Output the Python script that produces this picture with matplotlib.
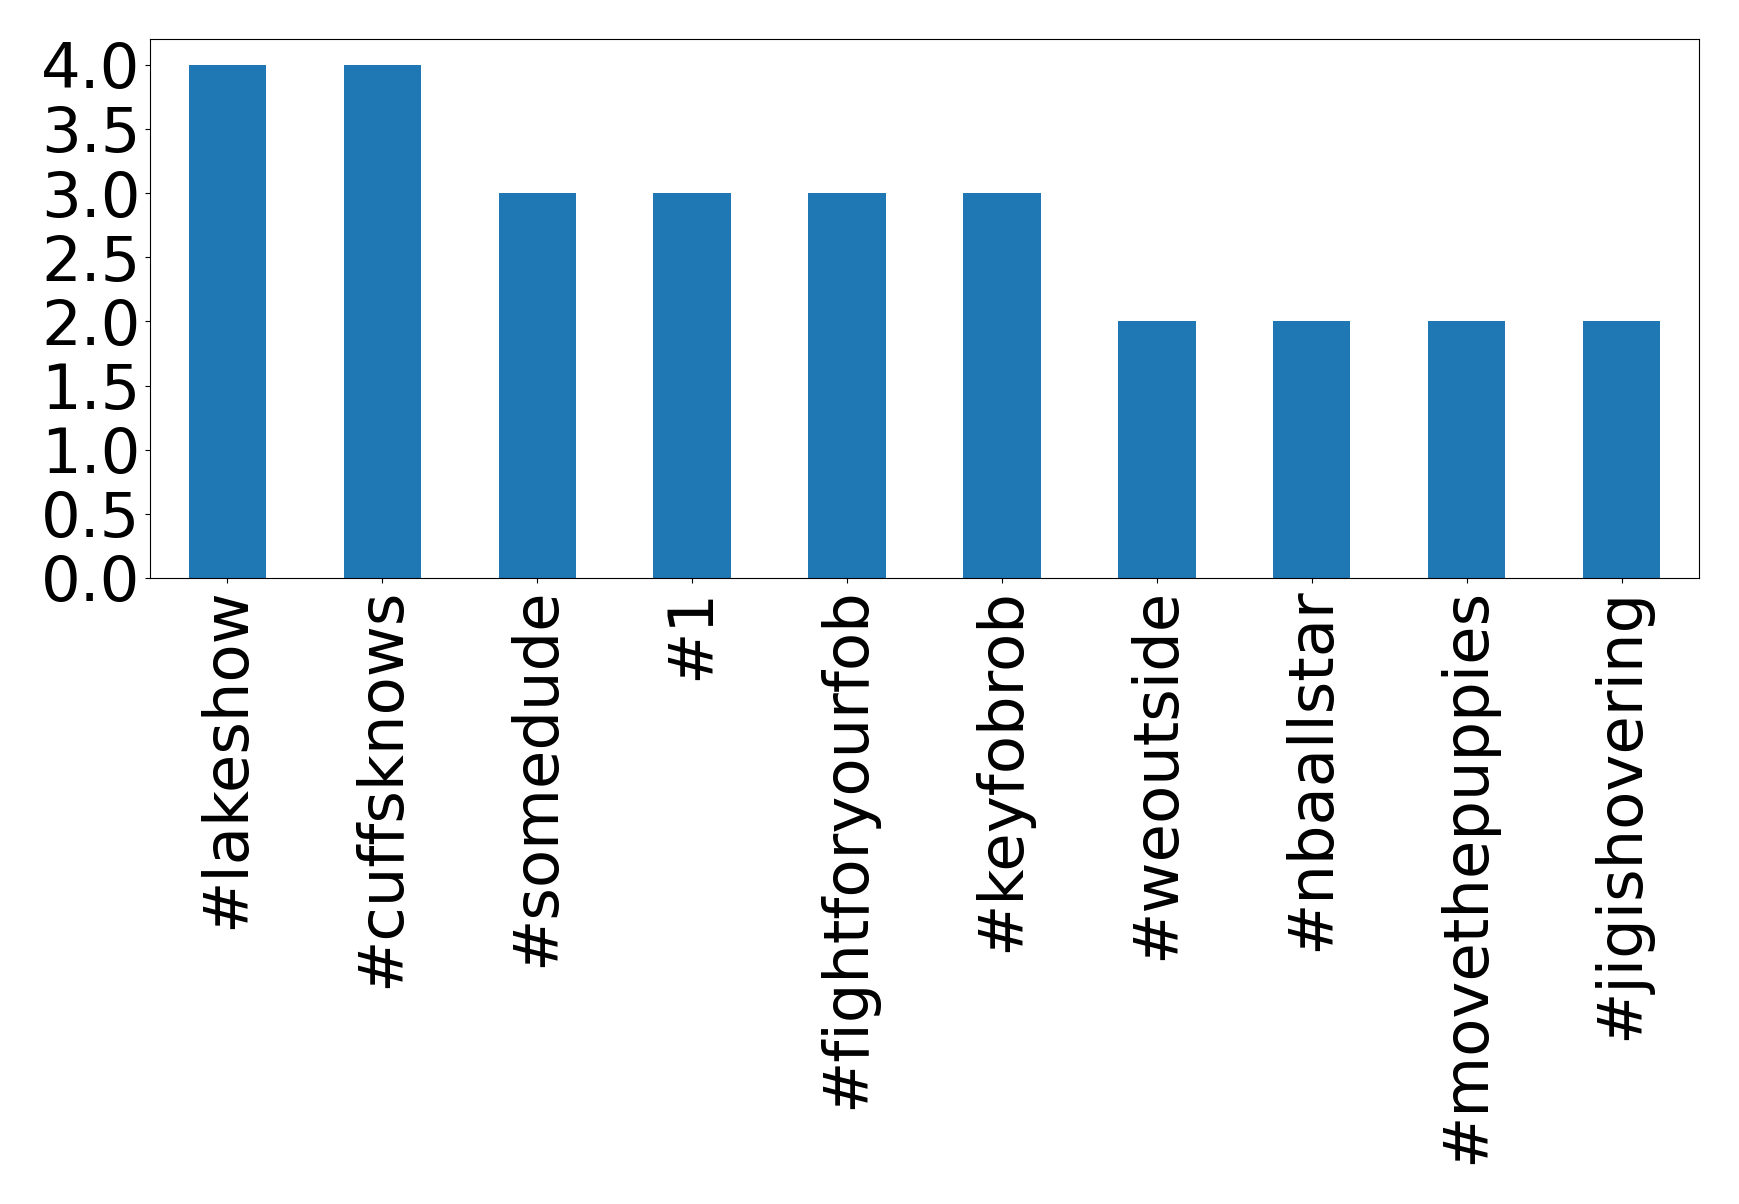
import matplotlib
matplotlib.use("Agg")
import matplotlib.pyplot as plt
import pandas as pd

hashtags = ['#lakeshow', '#cuffsknows', '#somedude', '#1', '#fightforyourfob',
            '#keyfobrob', '#weoutside', '#nbaallstar', '#movethepuppies',
            '#jigishovering']
counts = [4, 4, 3, 3, 3, 3, 2, 2, 2, 2]

s = pd.Series(counts, index=hashtags)

fig = plt.figure(figsize=(17.39, 12.04), dpi=100)
ax = fig.add_axes([150 / 1739, 1 - 578 / 1204, (1699 - 150) / 1739, (578 - 39) / 1204])
s.plot(kind='bar', ax=ax, fontsize=45)

fig.savefig('out.png', dpi=100)
